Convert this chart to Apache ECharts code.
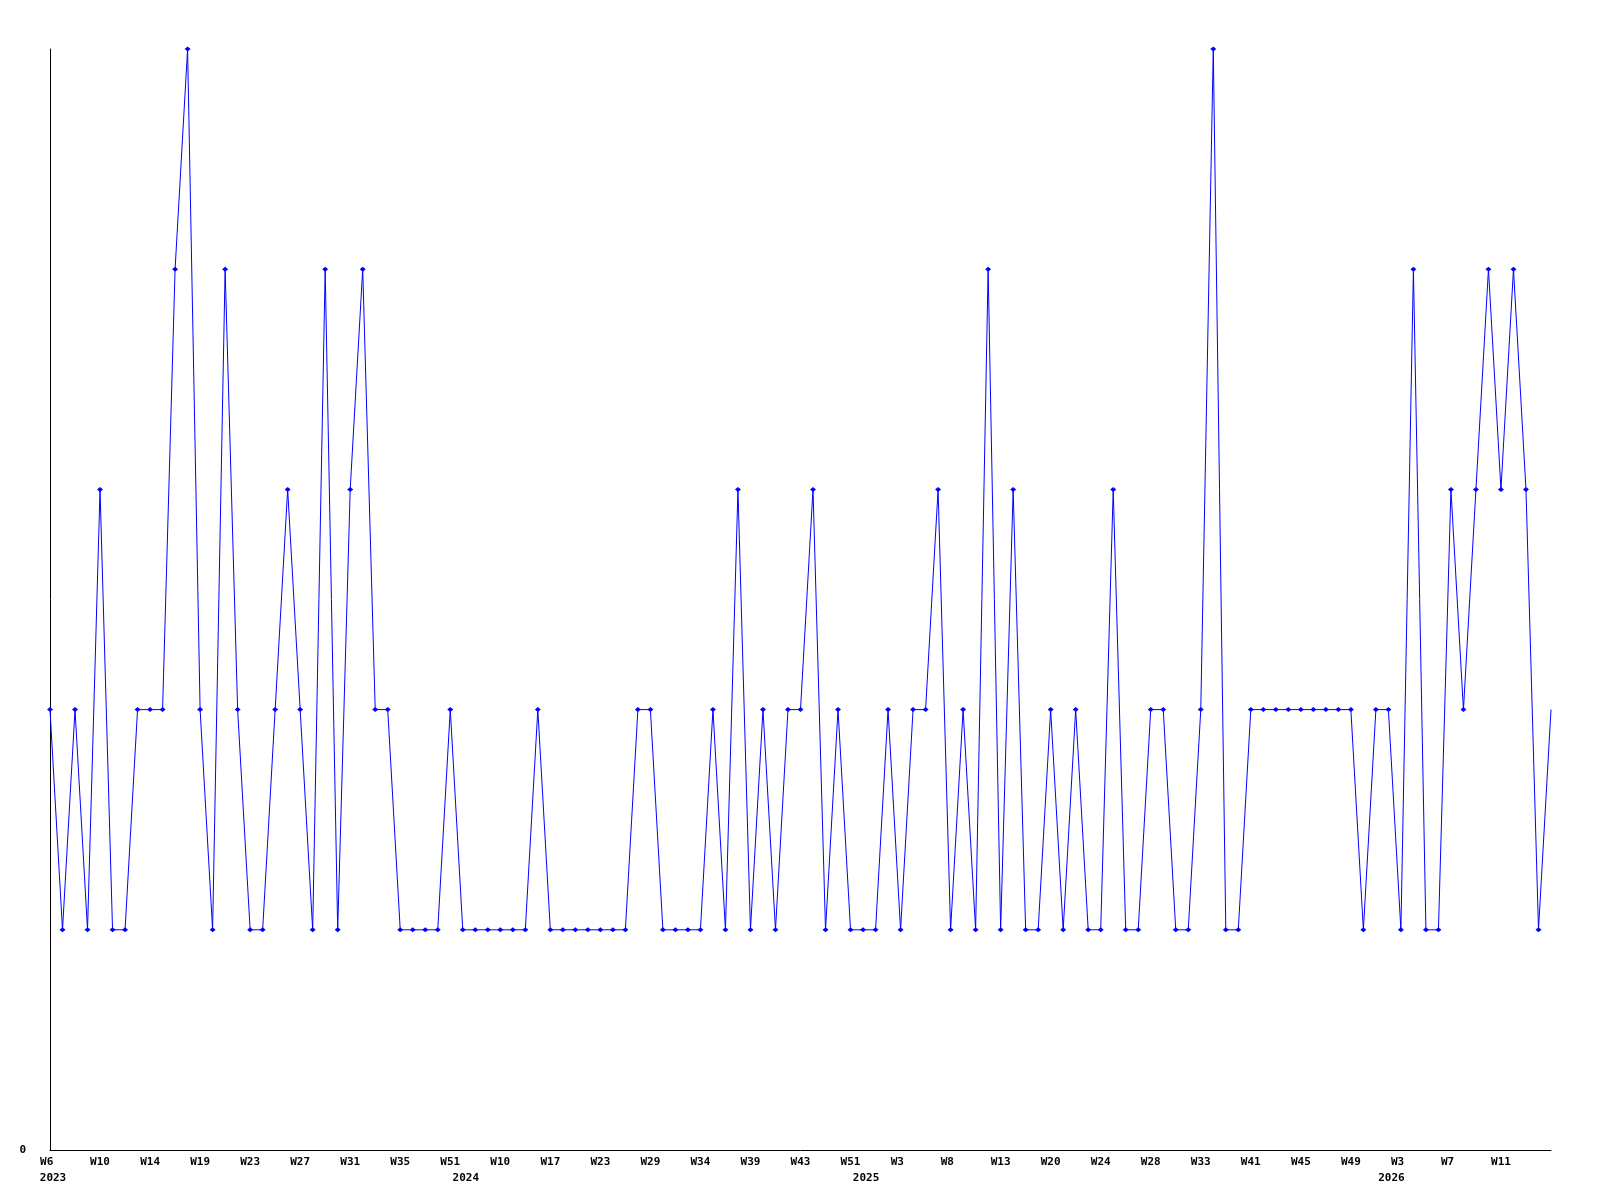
<!DOCTYPE html>
<html><head><meta charset="utf-8">
<script src="https://cdn.jsdelivr.net/npm/echarts@6/dist/echarts.min.js"></script>
<style>html,body{margin:0;padding:0;background:#fff}#c{width:1600px;height:1200px}</style>
</head><body><div id="c"></div>
<script>
// Week categories (year-week), one per data point
const categories = [
  '2023-W6','2023-W7','2023-W8','2023-W9','2023-W10','2023-W11','2023-W12','2023-W13','2023-W14','2023-W15',
  '2023-W16','2023-W18','2023-W19','2023-W20','2023-W21','2023-W22','2023-W23','2023-W24','2023-W25','2023-W26',
  '2023-W27','2023-W28','2023-W29','2023-W30','2023-W31','2023-W32','2023-W33','2023-W34','2023-W35','2023-W39',
  '2023-W44','2023-W48','2023-W51',
  '2024-W1','2024-W4','2024-W7','2024-W10','2024-W12','2024-W14','2024-W15','2024-W17','2024-W19','2024-W20',
  '2024-W22','2024-W23','2024-W25','2024-W26','2024-W28','2024-W29','2024-W30','2024-W32','2024-W33','2024-W34',
  '2024-W35','2024-W37','2024-W38','2024-W39','2024-W40','2024-W41','2024-W42','2024-W43','2024-W45','2024-W47',
  '2024-W49','2024-W51','2024-W52',
  '2025-W1','2025-W2','2025-W3','2025-W4','2025-W5','2025-W6','2025-W8','2025-W9','2025-W10','2025-W11',
  '2025-W13','2025-W14','2025-W16','2025-W18','2025-W20','2025-W21','2025-W22','2025-W23','2025-W24','2025-W25',
  '2025-W26','2025-W27','2025-W28','2025-W29','2025-W30','2025-W32','2025-W33','2025-W34','2025-W36','2025-W38',
  '2025-W41','2025-W42','2025-W43','2025-W44','2025-W45','2025-W46','2025-W47','2025-W48','2025-W49','2025-W50',
  '2025-W52',
  '2026-W1','2026-W3','2026-W4','2026-W5','2026-W6','2026-W7','2026-W8','2026-W9','2026-W10','2026-W11',
  '2026-W12','2026-W13','2026-W14','2026-W15'
];

// Series values
const values = [
  2,1,2,1,3,1,1,2,2,2,4,5,2,1,4,2,1,1,2,3,2,1,4,1,3,4,2,2,1,1,1,1,
  2,1,1,1,1,1,1,2,1,1,1,1,1,1,1,2,2,1,1,1,1,2,1,3,1,2,1,2,2,3,1,
  2,1,1,1,2,1,2,2,3,1,2,1,4,1,3,1,1,2,1,2,1,1,3,1,1,2,2,1,1,2,5,
  1,1,2,2,2,2,2,2,2,2,2,1,2,2,1,4,1,1,3,2,3,4,3,4,3,1,2
];

// Year tick labels (second label row) and where they sit
const yearTickIndex = [0, 33, 65, 107];
const yearTickText = ['2023', '2024', '2025', '2026'];

const chart = echarts.init(document.getElementById('c'), null, {renderer: 'canvas'});
const font = {fontFamily: 'DejaVu Sans Mono', fontSize: 11, fontWeight: 'bold', color: '#000'};
const lastIdx = values.length - 1;

chart.setOption({
  animation: false,
  backgroundColor: '#fff',
  grid: {left: 50, right: 49, top: 49, bottom: 50},
  xAxis: [{
    type: 'category', data: categories, boundaryGap: false,
    axisLine: {lineStyle: {color: '#000', width: 1}},
    axisTick: {show: false},
    splitLine: {show: false},
    axisLabel: Object.assign({interval: (i) => i % 4 === 0 && i < lastIdx, margin: 7,
      formatter: v => v.split('-')[1].padEnd(3, ' ')}, font)
  }, {
    type: 'category', data: categories, boundaryGap: false, position: 'bottom',
    axisLine: {show: false}, axisTick: {show: false}, splitLine: {show: false},
    axisLabel: Object.assign({interval: 0, margin: 23, padding: [0, 0, 0, 6],
      formatter: v => {
        const k = yearTickIndex.indexOf(categories.indexOf(v));
        return k >= 0 ? yearTickText[k] : '';
      }}, font)
  }],
  yAxis: {
    type: 'value', min: 0, max: 5, interval: 5,
    axisLine: {show: true, lineStyle: {color: '#000', width: 1}},
    axisTick: {show: false},
    splitLine: {show: false},
    axisLabel: Object.assign({margin: 24, formatter: v => v === 0 ? '0' : ''}, font)
  },
  series: [{
    type: 'line', xAxisIndex: 0,
    data: values.map((v, i) => i === lastIdx ? {value: v, symbol: 'none'} : v),
    symbol: 'diamond', symbolSize: [6, 5], showAllSymbol: true,
    lineStyle: {color: '#0000ff', width: 1},
    itemStyle: {color: '#0000ff'},
    emphasis: {disabled: true}
  }]
});
</script>
</body></html>
